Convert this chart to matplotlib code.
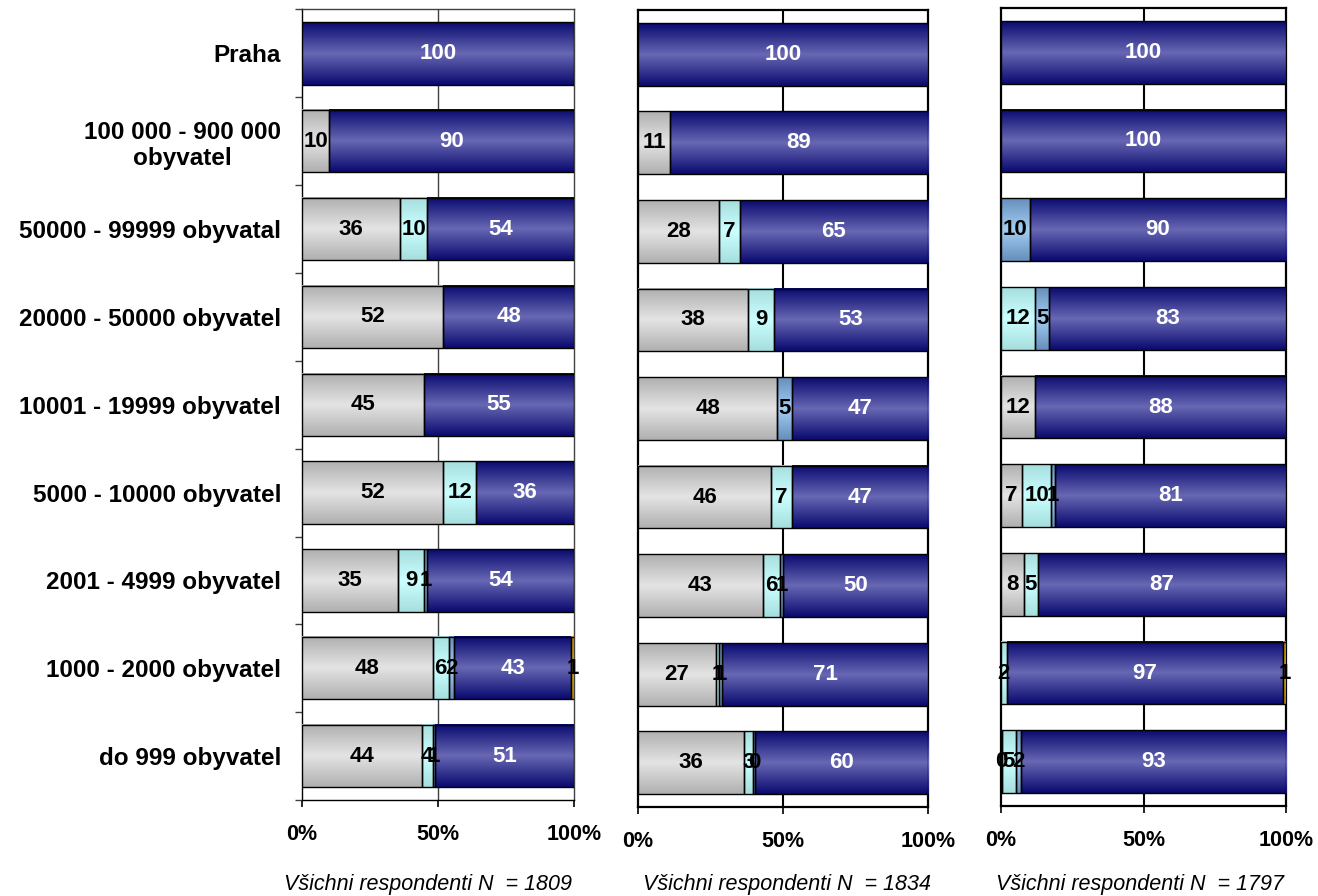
import numpy as np
import matplotlib
matplotlib.use("Agg")
import matplotlib.pyplot as plt
from matplotlib.colors import LinearSegmentedColormap

plt.rcParams['font.family'] = ['Liberation Sans', 'DejaVu Sans']

categories = ["Praha", "100 000 - 900 000\nobyvatel", "50000 - 99999 obyvatal",
              "20000 - 50000 obyvatel", "10001 - 19999 obyvatel", "5000 - 10000 obyvatel",
              "2001 - 4999 obyvatel", "1000 - 2000 obyvatel", "do 999 obyvatel"]
x_ticks = [0, 50, 100]
x_tick_labels = ["0%", "50%", "100%"]
captions = ["Všichni respondenti N  = 1809", "Všichni respondenti N  = 1834",
            "Všichni respondenti N  = 1797"]

panel1_grey = [0, 10, 36, 52, 45, 52, 35.4, 48, 44]
panel1_cyan = [0, 0, 10, 0, 0, 12, 9.4, 6, 4]
panel1_steel = [0, 0, 0, 0, 0, 0, 1.3, 2, 1]
panel1_navy = [100, 90, 54, 48, 55, 36, 53.9, 43, 51]
panel1_gold = [0, 0, 0, 0, 0, 0, 0, 1, 0]

panel2_grey = [0, 11, 28, 38, 48, 46, 43, 27, 36.4]
panel2_cyan = [0, 0, 7, 9, 0, 7, 6, 1, 3.4]
panel2_steel = [0, 0, 0, 0, 5, 0, 1, 1, 0.4]
panel2_navy = [100, 89, 65, 53, 47, 47, 50, 71, 59.8]
panel2_gold = [0, 0, 0, 0, 0, 0, 0, 0, 0]

panel3_grey = [0, 0, 0, 0, 12, 7.3, 8, 0, 0.3]
panel3_cyan = [0, 0, 0, 12, 0, 10.4, 5, 2, 4.8]
panel3_steel = [0, 0, 10, 5, 0, 1.3, 0, 0, 1.9]
panel3_navy = [100, 100, 90, 83, 88, 81.0, 87, 97, 93]
panel3_gold = [0, 0, 0, 0, 0, 0, 0, 1, 0]

panels = [
    [panel1_grey, panel1_cyan, panel1_steel, panel1_navy, panel1_gold],
    [panel2_grey, panel2_cyan, panel2_steel, panel2_navy, panel2_gold],
    [panel3_grey, panel3_cyan, panel3_steel, panel3_navy, panel3_gold],
]

# (edge colour, centre colour) of each series' vertical gradient
series_grad = [("#b0b0b0", "#e4e4e4"), ("#a6dede", "#ccffff"), ("#6690bb", "#a4cdf4"),
               ("#0a0a70", "#6868b4"), ("#e0a000", "#ffcc00")]
label_colors = ["black", "black", "black", "white", "black"]

cmaps = [LinearSegmentedColormap.from_list("g%d" % i, [e, c, e]) for i, (e, c) in enumerate(series_grad)]

W, H = 1318, 896
fig = plt.figure(figsize=(W / 100, H / 100), dpi=100)

# axes boxes in pixels: left, right, top, bottom
boxes = [(302, 574, 9.5, 800), (638, 928, 10, 807), (1001, 1286, 8, 806)]
caption_x = [428, 787, 1140]

for pi, (box, series) in enumerate(zip(boxes, panels)):
    l, r, t, b = box
    ax = fig.add_axes([l / W, 1 - b / H, (r - l) / W, (b - t) / H])
    y = np.arange(len(categories))
    left = np.zeros(len(categories))
    ax.axvline(50, color="#404040" if pi == 0 else "black", lw=1.0 if pi == 0 else 1.5, zorder=1)
    for si, vals in enumerate(series):
        vals = np.array(vals, dtype=float)
        bars = ax.barh(y, vals, left=left, height=0.71, color=series_grad[si][1],
                       edgecolor="black", linewidth=1.0, zorder=4)
        for p, v in zip(bars.patches, vals):
            if v <= 0:
                p.set_visible(False)
                continue
            x0, y0 = p.get_x(), p.get_y()
            w, h = p.get_width(), p.get_height()
            grad = np.linspace(0, 1, 64).reshape(-1, 1)
            ax.imshow(grad, extent=[x0, x0 + w, y0, y0 + h], cmap=cmaps[si],
                      aspect="auto", zorder=3, interpolation="bilinear")
            p.set_facecolor("none")
        for yi, (lf, v) in enumerate(zip(left, vals)):
            if v > 0:
                ax.text(lf + v / 2, yi, "%d" % round(v), ha="center", va="center",
                        color=label_colors[si], fontsize=16, fontweight="bold", zorder=6)
        left = left + vals
    ax.set_xlim(0, 100)
    ax.set_ylim(len(categories) - 0.5, -0.5)
    ax.set_xticks(x_ticks)
    ax.set_xticklabels(x_tick_labels, fontsize=15.5, fontweight="bold")
    ax.tick_params(axis="x", length=5, pad=12, width=1.2)
    if pi == 0:
        ax.set_yticks(y)
        labs = ax.set_yticklabels(categories, fontsize=17.5, fontweight="bold")
        for lb in labs:
            lb.set_multialignment("center")
        ax.tick_params(axis="y", which="major", length=0, pad=15)
        ax.set_yticks(np.arange(-0.5, len(categories), 1.0), minor=True)
        ax.tick_params(axis="y", which="minor", length=5, width=1.0, color="#404040")
        for s in ax.spines.values():
            s.set_color("#404040")
            s.set_linewidth(1.0)
        ax.spines["left"].set_color("black")
        ax.spines["bottom"].set_color("black")
    else:
        ax.set_yticks([])
        for s in ax.spines.values():
            s.set_color("black")
            s.set_linewidth(1.6)
    fig.text(caption_x[pi] / W, 1 - 884 / H, captions[pi], ha="center", va="center",
             fontsize=15.5, style="italic")

fig.savefig("out.png", dpi=100, facecolor="white")
